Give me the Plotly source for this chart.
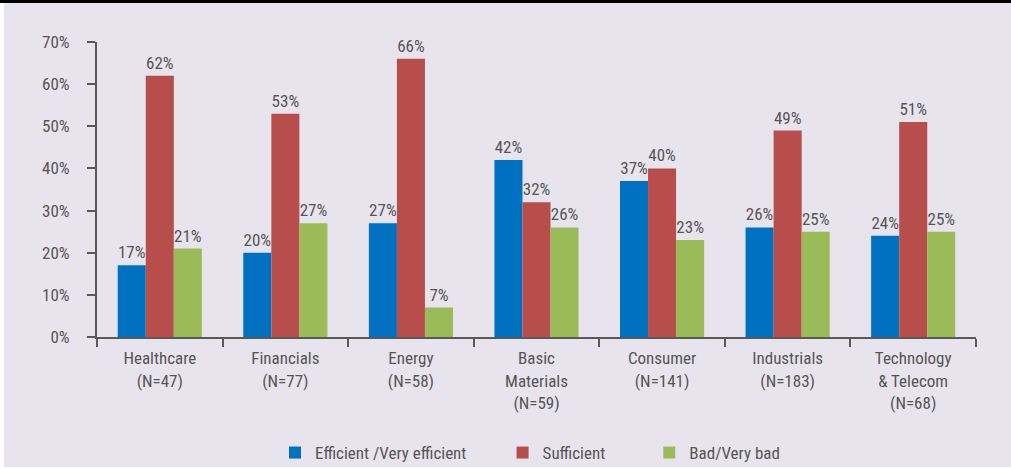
import plotly.graph_objects as go

categories = ["Healthcare<br>(N=47)", "Financials<br>(N=77)", "Energy<br>(N=58)",
              "Basic<br>Materials<br>(N=59)", "Consumer<br>(N=141)", "Industrials<br>(N=183)",
              "Technology<br>& Telecom<br>(N=68)"]
series_names = ["Efficient /Very efficient", "Sufficient", "Bad/Very bad"]
efficient = [17, 20, 27, 42, 37, 26, 24]
sufficient = [62, 53, 66, 32, 40, 49, 51]
bad = [21, 27, 7, 26, 23, 25, 25]
y_ticks = [0, 10, 20, 30, 40, 50, 60, 70]
colors = ["#0070C0", "#B84E4C", "#9BBB59"]
pads = [8, 10, 0]

FONT = "Roboto Condensed, Liberation Sans Narrow, Roboto, sans-serif"
TXT = "#555555"
FS = 17

W, H = 1011, 469
ml, mr, mt, mb = 97, 35, 42, 132

fig = go.Figure()
for name, vals, c, p in zip(series_names, [efficient, sufficient, bad], colors, pads):
    fig.add_trace(go.Bar(
        x=categories, y=vals, name=name + "\u00a0" * p, marker_color=c, marker_line_width=0,
        text=[f"{v}%" for v in vals], textposition="outside", cliponaxis=False,
        textfont=dict(family=FONT, size=FS, color=TXT),
    ))

pw = W - ml - mr
ph = H - mt - mb
def px_x(p):
    return (p - ml) / pw
def px_y(p):
    return (H - mb - p) / ph

shapes = [
    dict(type="rect", xref="paper", yref="paper", x0=px_x(0), x1=px_x(4), y0=px_y(0), y1=px_y(H),
         fillcolor="white", line_width=0, layer="above"),
    dict(type="rect", xref="paper", yref="paper", x0=px_x(0), x1=px_x(W), y0=px_y(H - 2), y1=px_y(H),
         fillcolor="white", line_width=0, layer="above"),
    dict(type="rect", xref="paper", yref="paper", x0=px_x(0), x1=px_x(W), y0=px_y(0), y1=px_y(3),
         fillcolor="black", line_width=0, layer="above"),
]

fig.update_layout(
    width=W, height=H,
    margin=dict(l=ml, r=mr, t=mt, b=mb, autoexpand=False),
    paper_bgcolor="#E8E4EE", plot_bgcolor="#E8E4EE",
    barmode="group", bargap=0.33, bargroupgap=0,
    font=dict(family=FONT, size=FS, color=TXT),
    showlegend=True,
    legend=dict(orientation="h", x=px_x(275), xanchor="left", y=px_y(453), yanchor="middle",
                font=dict(family=FONT, size=FS, color=TXT), itemwidth=30,
                traceorder="normal", bgcolor="rgba(0,0,0,0)"),
    shapes=shapes,
    xaxis=dict(showline=True, linecolor="#595959", linewidth=2, ticks="outside",
               ticklen=8, tickcolor="#595959", tickwidth=2, tickson="boundaries",
               ticklabelstandoff=5,
               showgrid=False, automargin=False, tickfont=dict(family=FONT, size=FS, color=TXT)),
    yaxis=dict(range=[0, 70], tickvals=y_ticks, ticktext=[f"{v}%" for v in y_ticks],
               showline=True, linecolor="#595959", linewidth=2, ticks="outside",
               ticklen=8, tickcolor="#595959", tickwidth=2, showgrid=False, zeroline=False,
               ticklabelstandoff=14,
               automargin=False, tickfont=dict(family=FONT, size=FS, color=TXT)),
)

fig.write_html("out.html", config={"displayModeBar": False},
               post_script="document.body.style.margin='0';document.body.style.overflow='hidden';")
